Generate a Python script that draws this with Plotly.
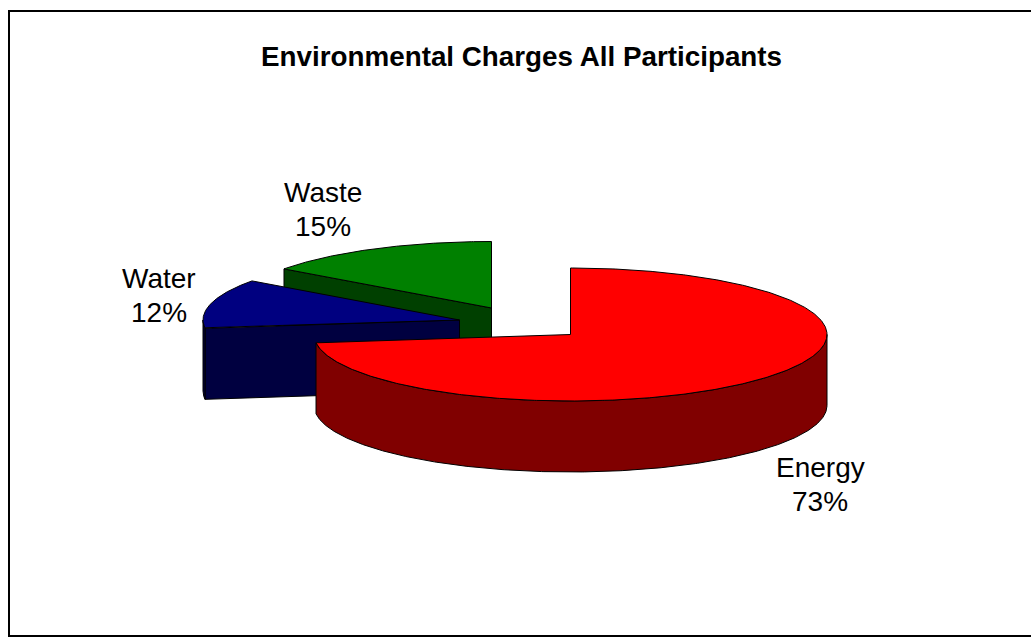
import numpy as np
import plotly.graph_objects as go

# Chart content
categories = ["Energy", "Water", "Waste"]
shares = [73, 12, 15]
title_text = "Environmental Charges All Participants"

# Face colours for the top of each slice and its shaded side
top_colors = ["#ff0000", "#000080", "#008000"]
side_colors = ["#800000", "#000040", "#004000"]

# Pie projection, in page pixels
RX, RY, DEPTH = 256.5, 66.5, 71
centers = {"Energy": (570.5, 334.5), "Water": (459.5, 320), "Waste": (491.5, 308)}
label_pos = {"Energy": (820, 484), "Water": (159, 295), "Waste": (323, 209)}
LINE_GAP = 34


def rim(cx, cy, t0, t1):
    """Points along the elliptical edge between two clockwise angles from 12 o'clock."""
    t = np.radians(np.linspace(t0, t1, max(int(abs(t1 - t0) * 2), 2)))
    return cx + RX * np.sin(t), cy - RY * np.cos(t)


def polygon(x, y, color):
    return go.Scatter(
        x=x, y=y, mode="lines", fill="toself", fillcolor=color,
        line=dict(color="#000000", width=1), hoverinfo="skip", showlegend=False,
    )


fractions = np.array(shares) / sum(shares)
ends = np.cumsum(fractions) * 360
starts = ends - fractions * 360

fig = go.Figure()

# Slices are painted back to front so the red slice overlaps the other two
for i in (2, 1, 0):
    name = categories[i]
    cx, cy = centers[name]
    t0, t1 = starts[i], ends[i]

    # Flat cut face that looks toward the viewer
    if name != "Energy":
        ex, ey = rim(cx, cy, t0, t0)
        fx, fy = float(ex[0]), float(ey[0])
        fig.add_trace(polygon([cx, fx, fx, cx, cx],
                              [cy, fy, fy + DEPTH, cy + DEPTH, cy], side_colors[i]))

    # Curved outer wall, only where it faces front (90 to 270 degrees)
    a, b = max(t0, 90), min(t1, 270)
    if b > a:
        wx, wy = rim(cx, cy, a, b)
        fig.add_trace(polygon(np.r_[wx, wx[::-1], wx[0]],
                              np.r_[wy, wy[::-1] + DEPTH, wy[0]], side_colors[i]))

    # Top face
    tx, ty = rim(cx, cy, t0, t1)
    fig.add_trace(polygon(np.r_[cx, tx, cx], np.r_[cy, ty, cy], top_colors[i]))

# Slice labels: name above percentage, with a tighter line gap than the default
label_font = dict(family="Liberation Sans", size=28, color="#000000")
annotations = []
for n, s in zip(categories, shares):
    x, y = label_pos[n]
    annotations.append(dict(x=x, y=y - LINE_GAP / 2, xref="x", yref="y", text=n,
                            showarrow=False, font=label_font))
    annotations.append(dict(x=x, y=y + LINE_GAP / 2, xref="x", yref="y", text=f"{s}%",
                            showarrow=False, font=label_font))
annotations.append(dict(x=521.5, y=56, xref="x", yref="y", text=f"<b>{title_text}</b>",
                        showarrow=False,
                        font=dict(family="Liberation Sans", size=27.8, color="#000000")))

# Frame: open on the right-hand side of the page
frame = dict(type="path", path="M 9 637 L 9 11 L 1031 11", line=dict(color="#000000", width=2),
             xref="x", yref="y")
floor = dict(type="line", x0=9, x1=1031, y0=636, y1=636, line=dict(color="#000000", width=2),
             xref="x", yref="y")

fig.update_layout(
    width=1031, height=637, margin=dict(l=0, r=0, t=0, b=0),
    paper_bgcolor="#ffffff", plot_bgcolor="#ffffff",
    xaxis=dict(range=[0, 1031], visible=False, fixedrange=True),
    yaxis=dict(range=[637, 0], visible=False, fixedrange=True),
    annotations=annotations, shapes=[frame, floor],
)

fig.write_html("out.html", config={"displayModeBar": False})
